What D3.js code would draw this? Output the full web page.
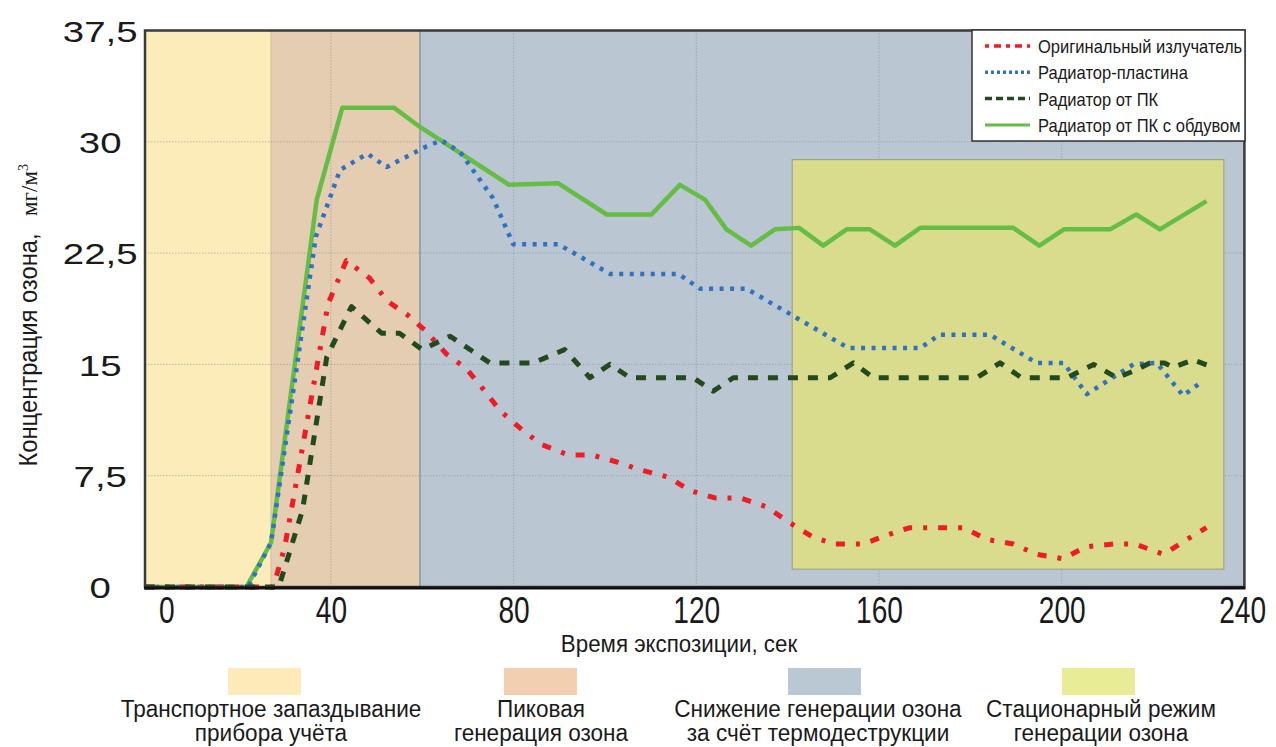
<!DOCTYPE html>
<html>
<head>
<meta charset="utf-8">
<script src="https://cdn.jsdelivr.net/npm/d3@7/dist/d3.min.js"></script>
<style>
    body { margin: 0; background: #fff; }
    text { font-family: "Liberation Sans", Arial, sans-serif; fill: #1a1a1a; }
</style>
</head>
<body>
<div id="chart"></div>
<script>
// ---- data ----
const seriesNames = [
    "Оригинальный излучатель",
    "Радиатор-пластина",
    "Радиатор от ПК",
    "Радиатор от ПК с обдувом"
];

// Оригинальный излучатель
const tOriginal = [-0.7, 27.4, 29.9, 39.4, 43.4, 48.5, 52.2, 56.9, 60.6, 65.3, 69.7, 73.7, 77, 81.8, 86.1, 92, 97.1, 102.9, 107.7, 113.9, 118.6, 124.1, 129.6, 135.4, 140.1, 145.3, 150, 156.6, 161.7, 166.8, 178.5, 183.6, 189.4, 194.5, 200.4, 205.1, 211.3, 216, 222.3, 227.4, 231.7];
const vOriginal = [0, 0, 2.7, 19.1, 22.0, 20.8, 19.3, 18.3, 17.3, 15.7, 14.7, 13.2, 11.9, 10.6, 9.6, 8.9, 8.9, 8.4, 7.9, 7.4, 6.5, 6.0, 6.0, 5.4, 4.4, 3.4, 2.9, 2.9, 3.5, 4.0, 4.0, 3.2, 2.9, 2.2, 1.9, 2.7, 2.9, 2.9, 2.2, 3.2, 4.0];

// Радиатор-пластина
const tPlate = [-0.7, 21.9, 26.9, 36.7, 42, 48, 52.2, 61, 64.2, 68.3, 75.5, 79.9, 89.8, 101.1, 116.1, 120.8, 131, 153.3, 169, 173.3, 184.3, 194.5, 200.4, 205.5, 215.7, 220.8, 226.6, 231];
const vPlate = [0, 0, 3, 23.6, 28.1, 29.2, 28.3, 29.7, 30.1, 29.3, 26.2, 23.1, 23.1, 21.1, 21.1, 20.1, 20.1, 16.1, 16.1, 17.0, 17.0, 15.1, 15.1, 13.0, 15.0, 15.1, 12.9, 13.9];

// Радиатор от ПК
const tPc = [-0.7, 28.6, 33.8, 39.1, 44.5, 51.1, 55, 60, 66.1, 74.8, 84.3, 91.2, 96.7, 101.1, 105.5, 119.3, 123.7, 128.1, 149.3, 154.4, 158.8, 181.4, 186.5, 191.2, 201.1, 207, 212.1, 216.1, 219.3, 222.5, 224.4, 228.8, 233.2];
const vPc = [0, 0, 5.2, 15.5, 18.9, 17.1, 17.1, 16.0, 16.9, 15.1, 15.1, 16.0, 14.1, 15.0, 14.1, 14.1, 13.2, 14.1, 14.1, 15.1, 14.1, 14.1, 15.1, 14.1, 14.1, 15.0, 14.1, 14.6, 15.1, 15.1, 14.8, 15.3, 14.8];

// Радиатор от ПК с обдувом
const tFan = [-0.7, 21.5, 26.9, 36.9, 42.5, 53.8, 59.5, 79, 89.8, 100.4, 110.2, 116.4, 121.9, 126.6, 132, 137.2, 142.5, 147.8, 152.9, 158, 163.5, 169, 189.4, 195.1, 200.5, 210.6, 216.3, 221.5, 231.7];
const vFan = [0, 0, 3, 26.1, 32.3, 32.3, 31, 27.1, 27.2, 25.1, 25.1, 27.1, 26.1, 24.1, 23, 24.1, 24.2, 23, 24.1, 24.1, 23, 24.2, 24.2, 23, 24.1, 24.1, 25.1, 24.1, 26];

// phases (time ranges, seconds)
const phaseStart = [-0.7, 26.9, 59.5];
const phaseEnd = [26.9, 59.5, 240];
const stationaryT = [141, 235.5];
const stationaryV = [1.2, 28.8];

const phaseLabels = [
    ["Транспортное запаздывание", "прибора учёта"],
    ["Пиковая", "генерация озона"],
    ["Снижение генерации озона", "за счёт термодеструкции"],
    ["Стационарный режим", "генерации озона"]
];

const xTicks = [0, 40, 80, 120, 160, 200, 240];
const yTicks = [0, 7.5, 15, 22.5, 30, 37.5];
const xGrid = [40, 80, 120, 160, 200];
const yGrid = [7.5, 15, 22.5, 30];

// ---- chart ----
let margin = {top: 30.5, left: 145};
let width = 1099.4, height = 556.5;

let svg = d3.select("#chart").append("svg")
    .attr("width", 1276)
    .attr("height", 747);

let g = svg.append("g")
    .attr("transform", "translate(" + margin.left + "," + margin.top + ")");

let x = d3.scaleLinear().domain([-0.7, 240]).range([0, width]);
let y = d3.scaleLinear().domain([0, 37.5]).range([height, 0]);

// stretch or squeeze text to a factor of its natural width
function stretch(sel, f) {
    sel.each(function () {
        let w = this.getComputedTextLength();
        d3.select(this).attr("textLength", w * f).attr("lengthAdjust", "spacingAndGlyphs");
    });
}

// phase backgrounds
let phaseColors = ["#fcecb9", "#e4cdb1", "#bac7d2"];
g.selectAll(".phase")
    .data(phaseStart)
    .enter().append("rect")
    .attr("x", (d, i) => x(d))
    .attr("y", 0)
    .attr("width", (d, i) => x(phaseEnd[i]) - x(d))
    .attr("height", height)
    .style("fill", (d, i) => phaseColors[i]);

// phase borders
g.selectAll(".phase-line")
    .data(phaseEnd.slice(0, 2))
    .enter().append("line")
    .attr("x1", d => x(d)).attr("x2", d => x(d))
    .attr("y1", 0).attr("y2", height)
    .style("stroke", (d, i) => i === 0 ? "#d8c79c" : "#8f969c")
    .style("stroke-width", 1.5);

// grid
let gridG = g.append("g");
gridG.selectAll(".gx")
    .data(xGrid)
    .enter().append("line")
    .attr("x1", d => x(d)).attr("x2", d => x(d))
    .attr("y1", 0).attr("y2", height)
    .style("stroke", "#8a9096")
    .style("stroke-width", 1)
    .style("stroke-dasharray", "1.5,1.5")
    .style("opacity", 0.55);
gridG.selectAll(".gy")
    .data(yGrid)
    .enter().append("line")
    .attr("x1", 0).attr("x2", width)
    .attr("y1", d => y(d)).attr("y2", d => y(d))
    .style("stroke", "#8a9096")
    .style("stroke-width", 1)
    .style("stroke-dasharray", "1.5,1.5")
    .style("opacity", 0.55);

// stationary mode box
g.append("rect")
    .attr("x", x(stationaryT[0]))
    .attr("y", y(stationaryV[1]))
    .attr("width", x(stationaryT[1]) - x(stationaryT[0]))
    .attr("height", y(stationaryV[0]) - y(stationaryV[1]))
    .style("fill", "#d9dd89")
    .style("fill-opacity", 0.97)
    .style("stroke", "#a3a58a")
    .style("stroke-width", 1.2);

// lines
let series = [
    {name: seriesNames[3], t: tFan, v: vFan, color: "#66bd45", dash: null, w: 4.5},
    {name: seriesNames[0], t: tOriginal, v: vOriginal, color: "#ee1c25", dash: "9,11,4,11", w: 5},
    {name: seriesNames[1], t: tPlate, v: vPlate, color: "#2f72c2", dash: "4,6.5", w: 4.5},
    {name: seriesNames[2], t: tPc, v: vPc, color: "#234a1f", dash: "10,10", w: 5}
];

let line = d3.line()
    .x(d => x(d[0]))
    .y(d => y(d[1]));

series.forEach(s => {
    g.append("path")
        .datum(d3.zip(s.t, s.v))
        .attr("fill", "none")
        .attr("stroke", s.color)
        .attr("stroke-width", s.w)
        .attr("stroke-linejoin", "round")
        .attr("stroke-dasharray", s.dash)
        .attr("d", line);
});

// frame
g.append("rect")
    .attr("x", 0).attr("y", 0)
    .attr("width", width).attr("height", height)
    .style("fill", "none")
    .style("stroke", "#3a3a3a")
    .style("stroke-width", 2.5);
g.append("line")
    .attr("x1", -1).attr("x2", width + 1)
    .attr("y1", height + 1).attr("y2", height + 1)
    .style("stroke", "#111")
    .style("stroke-width", 3);

// X axis (labels squeezed with a transform so their boxes stay true)
let xAxisGroup = g.append("g")
    .attr("transform", "translate(0," + height + ")")
    .call(d3.axisBottom(x).tickValues(xTicks).tickSize(0).tickFormat(d3.format("d")));
xAxisGroup.select(".domain").remove();
xAxisGroup.selectAll("text")
    .attr("y", 36).attr("dy", 0)
    .attr("x", d => d === 0 ? 24 : (d === 240 ? -3 : 0))
    .attr("transform", "scale(0.76,1)")
    .style("font-size", "37px")
    .style("fill", "#1a1a1a");

// Y axis
let yAxisGroup = g.append("g")
    .call(d3.axisLeft(y).tickValues(yTicks).tickSize(0).tickFormat(d => String(d).replace(".", ",")));
yAxisGroup.select(".domain").remove();
yAxisGroup.selectAll("text")
    .attr("x", -35)
    .attr("dy", "0.36em")
    .attr("text-anchor", "middle")
    .attr("transform", "scale(1.28,1)")
    .style("font-size", "30px")
    .style("fill", "#1a1a1a");

// X axis label
svg.append("text")
    .attr("x", 679)
    .attr("y", 652)
    .attr("text-anchor", "middle")
    .style("font-size", "24px")
    .text("Время экспозиции, сек")
    .call(stretch, 0.93);

// Y axis label
svg.append("text")
    .attr("transform", "translate(37,350) rotate(-90)")
    .attr("text-anchor", "middle")
    .style("font-size", "25px")
    .text("Концентрация озона,")
    .call(stretch, 0.95);

let unit = svg.append("text")
    .attr("transform", "translate(37,190) rotate(-90)")
    .attr("text-anchor", "middle")
    .style("font-family", "'Liberation Serif', 'Times New Roman', serif")
    .style("font-size", "23px");
unit.append("tspan").text("мг/м");
unit.append("tspan").attr("dy", -9).style("font-size", "14px").text("3");

// top-right legend
let legend = svg.append("g").attr("transform", "translate(972,30)");
legend.append("rect")
    .attr("width", 273).attr("height", 111)
    .style("fill", "#fff")
    .style("stroke", "#333")
    .style("stroke-width", 1.5);

let legendOrder = [1, 2, 3, 0];
legendOrder.forEach((si, i) => {
    let s = series[si];
    let item = legend.append("g").attr("transform", "translate(0," + (16 + i * 26.3) + ")");
    item.append("line")
        .attr("x1", 13).attr("x2", 58)
        .attr("y1", 0).attr("y2", 0)
        .style("stroke", s.color)
        .style("stroke-width", si === 0 ? 3 : 3.5)
        .style("stroke-dasharray", si === 1 ? "4,5,7,5" : si === 2 ? "3,3" : si === 3 ? "7,4" : null);
    item.append("text")
        .attr("x", 66).attr("y", 7)
        .style("font-size", "19px")
        .text(s.name)
        .call(stretch, 0.87);
});

// bottom phase legend
let swatchColors = ["#fcebb8", "#f2cfb0", "#bac8d3", "#e8ed95"];
let swatchX = [265, 541, 825, 1099];
let labelX = [271, 541, 818, 1101];
phaseLabels.forEach((lab, i) => {
    svg.append("rect")
        .attr("x", swatchX[i] - 37).attr("y", 668)
        .attr("width", 73).attr("height", 27)
        .style("fill", swatchColors[i]);
    lab.forEach((txt, j) => {
        svg.append("text")
            .attr("x", labelX[i])
            .attr("y", 717 + j * 23.5)
            .attr("text-anchor", "middle")
            .style("font-size", "23px")
            .text(txt)
            .call(stretch, 0.98);
    });
});
</script>
</body>
</html>
